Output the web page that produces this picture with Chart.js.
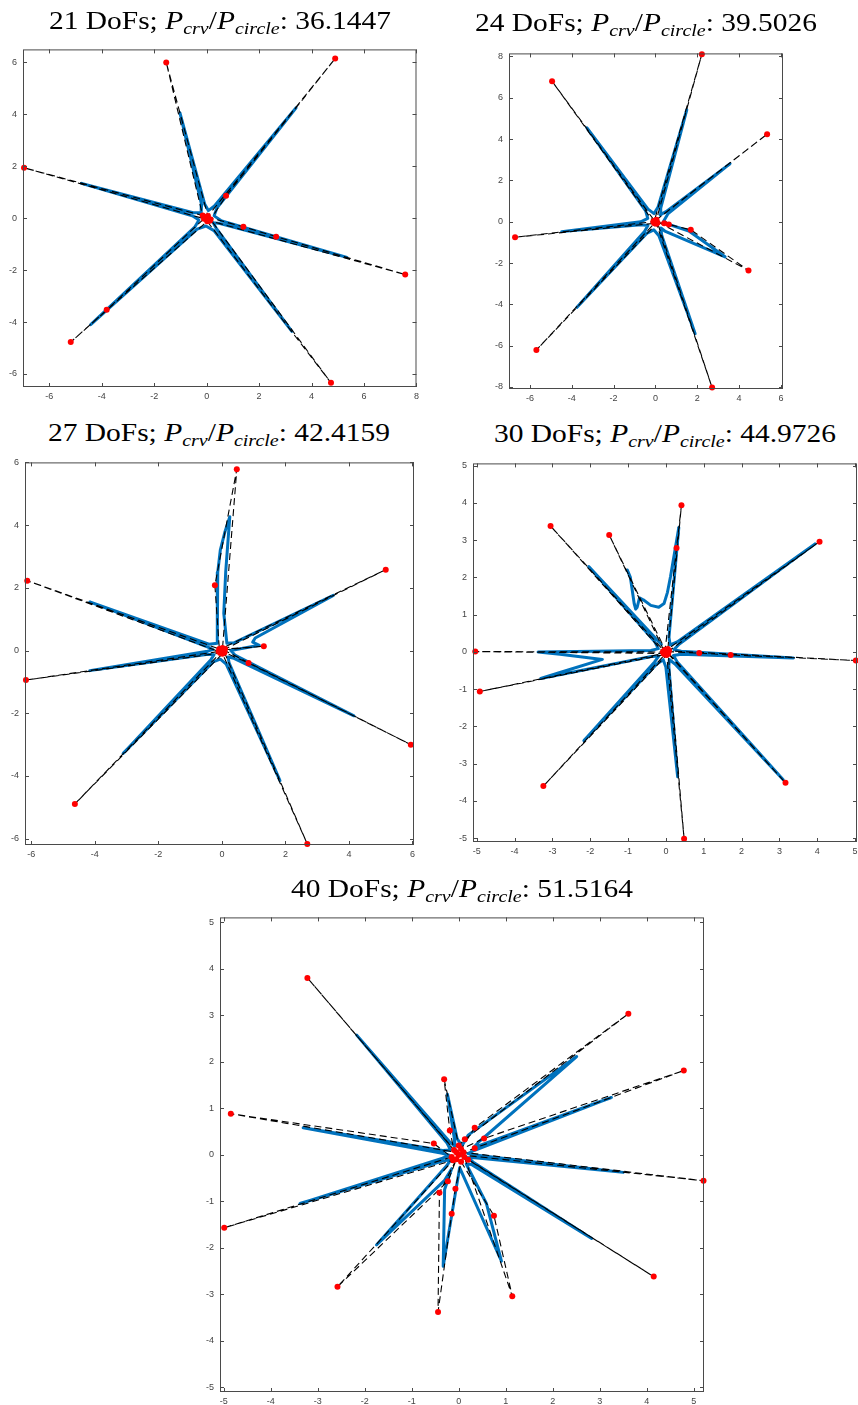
<!DOCTYPE html>
<html>
<head>
<meta charset="utf-8">
<script src="https://cdn.jsdelivr.net/npm/chart.js@4.4.1/dist/chart.umd.min.js"></script>
<style>
  html, body { margin: 0; background: #fff; }
  body { width: 858px; height: 1405px; position: relative; overflow: hidden; }
  canvas { position: absolute; }
  .title { position: absolute; font-family: "Liberation Serif", "Times New Roman", serif; font-size: 26px;
           line-height: 26px; white-space: nowrap; color: #000; transform-origin: 50% 50%; }
  .title sub { font-size: 0.68em; vertical-align: -0.3em; line-height: 0; }
</style>
</head>
<body>
<canvas id="c1"></canvas>
<canvas id="c2"></canvas>
<canvas id="c3"></canvas>
<canvas id="c4"></canvas>
<canvas id="c5"></canvas>
<script>
// titles
const dofs = [21, 24, 27, 30, 40];
const ratios = ["36.1447", "39.5026", "42.4159", "44.9726", "51.5164"];

// ticks
const p1XTicks = [-6, -4, -2, 0, 2, 4, 6, 8];
const p1YTicks = [-6, -4, -2, 0, 2, 4, 6];
const p2XTicks = [-6, -4, -2, 0, 2, 4, 6];
const p2YTicks = [-8, -6, -4, -2, 0, 2, 4, 6, 8];
const p3XTicks = [-6, -4, -2, 0, 2, 4, 6];
const p3YTicks = [-6, -4, -2, 0, 2, 4, 6];
const p4XTicks = [-5, -4, -3, -2, -1, 0, 1, 2, 3, 4, 5];
const p4YTicks = [-5, -4, -3, -2, -1, 0, 1, 2, 3, 4, 5];
const p5XTicks = [-5, -4, -3, -2, -1, 0, 1, 2, 3, 4, 5];
const p5YTicks = [-5, -4, -3, -2, -1, 0, 1, 2, 3, 4, 5];

// axis limits [xmin, xmax, ymin, ymax]
const p1Lim = [-7, 8, -6.5, 6.5];
const p2Lim = [-7, 6.1, -8.1, 8.15];
const p3Lim = [-6.2, 6.05, -6.2, 6.0];
const p4Lim = [-5.1, 5.05, -5.1, 5.06];
const p5Lim = [-5.08, 5.22, -5.1, 5.1];

// control polygons (red points, dashed black)
const p1CtrlX = [0, 1.4, 2.65, 7.57, 0.12, 0.74, 4.9, 0.05, -1.54, -0.15, -6.96, -0.1, -3.81, -5.18, 0.02, 4.74, 0.15, 0];
const p1CtrlY = [0.05, -0.33, -0.71, -2.17, -0.1, 0.86, 6.15, 0.08, 6.0, 0.1, 1.94, -0.02, -3.53, -4.77, -0.12, -6.34, -0.05, 0.05];

const p2CtrlX = [0, 5.34, 0.05, 2.22, -0.05, -4.94, -0.1, -6.71, -0.05, -5.69, 0.05, 2.71, 0.1, 0.42, 0.64, 1.69, 4.45, 0];
const p2CtrlY = [0.05, 4.24, 0.1, 8.11, 0.05, 6.8, 0, -0.75, -0.08, -6.21, -0.1, -8.03, -0.05, -0.07, -0.13, -0.39, -2.36, 0.05];

const p3CtrlX = [0.05, 1.32, 0.1, 5.16, 0.02, 0.47, -0.22, -0.08, -6.13, -0.1, -6.17, -0.05, -4.63, 0.02, 2.69, 0.08, 0.84, 5.95, 0.05];
const p3CtrlY = [0.02, 0.14, 0.05, 2.58, 0.08, 5.78, 2.08, 0.05, 2.23, -0.03, -0.94, -0.08, -4.89, -0.1, -6.17, -0.06, -0.4, -3.0, 0.02];

const p4CtrlX = [0.03, 0.88, 1.71, 5.02, 0.08, 4.06, 0.05, 0.41, 0.28, -0.02, -1.5, -0.05, -3.05, -0.08, -5.04, -0.06, -4.92, -0.03, -3.24, 0.02, 0.48, 0.06, 3.16, 0.03];
const p4CtrlY = [0.01, -0.03, -0.08, -0.23, 0.03, 2.96, 0.08, 3.94, 2.79, 0.06, 3.14, 0.03, 3.38, 0.0, 0.01, -0.04, -1.06, -0.07, -3.6, -0.08, -5.01, -0.05, -3.51, 0.01];

const p5CtrlX = [0, 5.21, 0.1, 0.34, 4.79, 0.54, 0.05, 0.34, 3.61, 0.13, 0, -0.31, -0.19, -0.1, -3.22, -0.05, -4.85, -0.53, -0.15, -4.99, -0.12, -2.58, -0.23, -0.05, -0.41, -0.44, -0.15, -0.07, 0.05, 0.75, 1.14, 0.12, 4.15, 0.2, 0];
const p5CtrlY = [0, -0.56, 0.05, 0.14, 1.81, 0.35, 0.12, 0.58, 3.03, 0.33, 0.2, 1.62, 0.52, 0.1, 3.8, 0.05, 0.88, 0.24, -0.05, -1.57, -0.12, -2.84, -0.57, -0.1, -0.82, -3.38, -1.27, -0.73, -0.15, -1.31, -3.04, -0.05, -2.62, -0.11, 0];

// curves (blue); null = break
const p1CurveX = [0.247, 0.513, 5.35, 0.545, 0.286, 0.391, 3.41, 0.297, 0.065, -0.076, -1.02, -0.192, -0.208, -0.514, -4.77, -0.546,
                  -0.292, -0.444, -4.42, -0.362, -0.026, 0.28, 3.25, 0.376, 0.247];
const p1CurveY = [-0.17, -0.208, -1.51, -0.092, 0.09, 0.391, 4.25, 0.467, 0.293, 0.548, 4.06, 0.518, 0.216, 0.207, 1.34, 0.091,
                  -0.07, -0.33, -4.1, -0.418, -0.299, -0.477, -4.36, -0.405, -0.17];

const p2CurveX = [0.398, 0.593, 3.57, 0.507, 0.224, 0.254, 1.5, 0.12, -0.069, -0.353, -3.28, -0.467, -0.365, -0.703, -4.48, -0.689,
                  -0.356, -0.522, -3.76, -0.418, -0.08, 0.166, 1.9, 0.298, 0.262, 0.45, 3.33, 1.6, 0.6, 0.398];
const p2CurveY = [0.038, 0.378, 2.81, 0.488, 0.332, 0.656, 5.42, 0.694, 0.394, 0.609, 4.55, 0.527, 0.163, -0.004, -0.48, -0.144,
                  -0.182, -0.472, -4.15, -0.566, -0.392, -0.684, -5.42, -0.638, -0.302, -0.45, -1.7, -0.45, -0.12, 0.038];

const p3CurveX = [0.28, 1.18, 0.97, 1.05, 3.51, 0.38, 0.157, 0.06, 0.12, 0.2, 0.25, 0.1, -0.05, -0.13, -0.15, -0.13, -0.153,
                  -0.405, -4.16, -0.439, -0.278, -0.453, -4.16, -0.437, -0.248, -0.346, -3.11, -0.274, -0.049, 0.135, 1.83,
                  0.227, 0.193, 0.381, 4.16, 0.425, 0.28];
const p3CurveY = [0.0, 0.17, 0.27, 0.4, 1.76, 0.247, 0.232, 1.19, 2.5, 3.6, 4.27, 3.8, 3.2, 2.5, 1.8, 1.0, 0.235,
                  0.204, 1.55, 0.11, 0.029, -0.019, -0.64, -0.117, -0.13, -0.293, -3.28, -0.361, -0.276, -0.431, -4.15,
                  -0.391, -0.203, -0.246, -2.08, -0.156, 0.0];

const p4CurveX = [0.199, 0.398, 3.37, 0.402, 0.211, 0.346, 3.94, 0.298, 0.11, 0.08, 0.34, 0.12, 0.04, -0.05, -0.19, -0.4, -0.6, -0.7,
                  -0.76, -0.8, -0.84, -0.94, -1.02, null,
                  -0.12, -0.236, -2.04, -0.296, -0.201, -0.4, -3.38, -2.8, -1.68, -2.8, -3.31, -0.383, -0.191, -0.3, -2.17, -0.24,
                  -0.072, -0.003, 0.31, 0.077, 0.088, 0.238, 3.1, 0.298, 0.199];
const p4CurveY = [-0.095, -0.059, -0.16, 0.021, 0.063, 0.205, 2.9, 0.269, 0.191, 0.394, 3.34, 2.02, 1.6, 1.3, 1.2, 1.25, 1.4, 1.45,
                  1.2, 1.15, 1.3, 2.0, 2.2, null,
                  0.2, 0.325, 2.29, 0.271, 0.089, 0.04, 0.0, -0.06, -0.2, -0.55, -0.71, -0.123, -0.11, -0.269, -2.38, -0.323,
                  -0.208, -0.402, -3.35, -0.394, -0.202, -0.324, -3.43, -0.27, -0.095];

const p5CurveX = [0.189, 0.345, 3.5, 0.351, 0.198, 0.338, 3.25, 0.316, 0.42, 0.55, 2.51, 0.2, 0.068, -0.034, -0.24, -0.092, -0.085,
                  -0.203, -2.17, -0.249, -0.173, -0.34, -3.31, -0.35, -0.2, -0.343, -3.38, -0.325, -0.169, -0.257, -1.75, -0.3,
                  -0.15, -0.3, -0.33, -0.05, 0.02, 0.91, 0.59, 0.16, 0.279, 2.83, 0.311, 0.189];
const p5CurveY = [-0.066, -0.068, -0.38, -0.008, 0.026, 0.096, 1.23, 0.152, 0.27, 0.38, 2.11, 0.42, 0.188, 0.349, 1.3, 0.339, 0.181,
                  0.287, 2.57, 0.249, 0.1, 0.091, 0.58, 0.031, -0.012, -0.075, -1.05, -0.133, -0.107, -0.24, -1.94, -0.55,
                  -0.3, -0.75, -2.4, -0.7, -0.28, -2.29, -1.05, -0.2, -0.213, -1.8, -0.163, -0.066];

// layout: axes box in page pixels, title centre / baseline
const boxes = [
  { x: 23, y: 44, w: 394, h: 343, tx: 220, tb: 30 },
  { x: 509, y: 48, w: 274, h: 341, tx: 646, tb: 32 },
  { x: 25, y: 457, w: 389, h: 388, tx: 219, tb: 442 },
  { x: 473, y: 458, w: 384, h: 384, tx: 665, tb: 443 },
  { x: 220, y: 912, w: 484, h: 480, tx: 462, tb: 898 },
];
const TITLE_W = 342;

const panels = [
  [p1Lim, p1XTicks, p1YTicks, p1CtrlX, p1CtrlY, p1CurveX, p1CurveY],
  [p2Lim, p2XTicks, p2YTicks, p2CtrlX, p2CtrlY, p2CurveX, p2CurveY],
  [p3Lim, p3XTicks, p3YTicks, p3CtrlX, p3CtrlY, p3CurveX, p3CurveY],
  [p4Lim, p4XTicks, p4YTicks, p4CtrlX, p4CtrlY, p4CurveX, p4CurveY],
  [p5Lim, p5XTicks, p5YTicks, p5CtrlX, p5CtrlY, p5CurveX, p5CurveY],
];

const AXIS = "#4a4a4a";

// box round the axes plus inward ticks on all four sides, like matlab
const boxTicks = {
  id: "boxTicks",
  afterDatasetsDraw(chart) {
    const { ctx, chartArea: a, scales } = chart;
    const L = 4;
    ctx.save();
    ctx.strokeStyle = AXIS;
    ctx.lineWidth = 1;
    ctx.strokeRect(a.left + 0.5, a.top + 0.5, a.right - a.left - 1, a.bottom - a.top - 1);
    ctx.beginPath();
    scales.x.ticks.forEach((t) => {
      const px = Math.round(scales.x.getPixelForValue(t.value)) + 0.5;
      ctx.moveTo(px, a.bottom); ctx.lineTo(px, a.bottom - L);
      ctx.moveTo(px, a.top); ctx.lineTo(px, a.top + L);
    });
    scales.y.ticks.forEach((t) => {
      const py = Math.round(scales.y.getPixelForValue(t.value)) + 0.5;
      ctx.moveTo(a.left, py); ctx.lineTo(a.left + L, py);
      ctx.moveTo(a.right, py); ctx.lineTo(a.right - L, py);
    });
    ctx.stroke();
    ctx.restore();
  },
};

const toPoints = (xs, ys) => xs.map((x, i) => ({ x: x, y: ys[i] }));

function makePanel(i) {
  const [lim, xt, yt, cx, cy, kx, ky] = panels[i];
  const b = boxes[i];
  const padL = 30, padT = 6, padR = 6, padB = 20;
  const cv = document.getElementById("c" + (i + 1));
  cv.width = b.w + padL + padR;
  cv.height = b.h + padT + padB;
  cv.style.left = b.x - padL + "px";
  cv.style.top = b.y - padT + "px";

  const tickFont = { family: "Liberation Sans", size: 9 };
  new Chart(cv, {
    type: "scatter",
    data: {
      datasets: [
        {
          data: toPoints(cx, cy),
          showLine: true,
          borderColor: "#000",
          borderWidth: 1.1,
          borderDash: [7, 4],
          pointRadius: 3,
          pointBackgroundColor: "#ff0000",
          pointBorderColor: "#ff0000",
          pointBorderWidth: 0,
          clip: false,
          order: 0,
        },
        {
          data: toPoints(kx, ky),
          showLine: true,
          borderColor: "#0072bd",
          borderWidth: 3,
          borderJoinStyle: "round",
          borderCapStyle: "round",
          pointRadius: 0,
          spanGaps: false,
          order: 1,
        },
      ],
    },
    options: {
      responsive: false,
      animation: false,
      devicePixelRatio: 1,
      events: [],
      layout: { padding: { left: 0, top: padT, right: padR, bottom: 0 } },
      plugins: { legend: { display: false }, tooltip: { enabled: false } },
      scales: {
        x: {
          type: "linear",
          min: lim[0],
          max: lim[1],
          afterFit: (s) => { s.height = padB; },
          afterBuildTicks: (s) => { s.ticks = xt.map((v) => ({ value: v })); },
          ticks: { color: "#444", font: tickFont, padding: 4, maxRotation: 0, autoSkip: false },
          grid: { display: false, drawTicks: false },
          border: { display: false },
        },
        y: {
          type: "linear",
          min: lim[2],
          max: lim[3],
          afterFit: (s) => { s.width = padL; },
          afterBuildTicks: (s) => { s.ticks = yt.map((v) => ({ value: v })); },
          ticks: { color: "#444", font: tickFont, padding: 6, autoSkip: false },
          grid: { display: false, drawTicks: false },
          border: { display: false },
        },
      },
    },
    plugins: [boxTicks],
  });

  const el = document.createElement("div");
  el.className = "title";
  el.innerHTML = `${dofs[i]} DoFs; <i>P</i><sub><i>crv</i></sub>/<i>P</i><sub><i>circle</i></sub>: ${ratios[i]}`;
  document.body.appendChild(el);
  const w = el.offsetWidth;
  el.style.left = b.tx - w / 2 + "px";
  el.style.top = b.tb - 22 + "px";
  el.style.transform = `scaleX(${TITLE_W / w})`;
}

for (let i = 0; i < panels.length; i++) makePanel(i);
</script>
</body>
</html>
